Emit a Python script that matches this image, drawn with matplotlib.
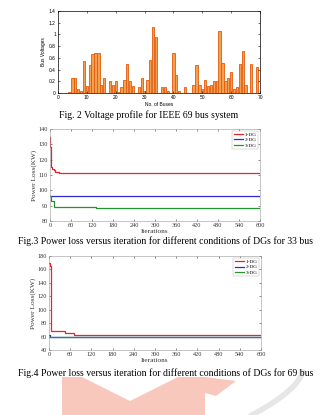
import matplotlib
matplotlib.use("Agg")
import matplotlib.pyplot as plt
from matplotlib.patches import Polygon
import numpy as np

# ---------------- data ----------------
buses = list(range(1, 70))
bus_voltages = [0.0, 0.0, 0.0, 0.02, 0.25, 0.26, 0.06, 0.03, 0.54, 0.12,
                0.47, 0.67, 0.68, 0.69, 0.13, 0.25, 0.0, 0.21, 0.13, 0.21,
                0.01, 0.10, 0.23, 0.49, 0.20, 0.12, 0.0, 0.10, 0.26, 0.04,
                0.23, 0.56, 1.12, 0.96, 0.0, 0.10, 0.10, 0.03, 0.0, 0.69,
                0.30, 0.03, 0.0, 0.11, 0.0, 0.0, 0.14, 0.48, 0.13, 0.06,
                0.22, 0.12, 0.14, 0.20, 0.20, 1.05, 0.52, 0.20, 0.25, 0.35,
                0.06, 0.10, 0.50, 0.72, 0.13, 0.0, 0.49, 0.0, 0.44]

# 33-bus convergence (breakpoints, step curves)
it33_1 = [0, 1, 2, 3, 4, 6, 10, 15, 25, 600]
loss33_1 = [135, 128, 120, 117, 115, 114, 113, 112, 111, 111]
it33_2 = [0, 600]
loss33_2 = [96.2, 95.8]
it33_3 = [0, 3, 10, 130, 600]
loss33_3 = [96, 93, 89, 88.4, 88.4]

# 69-bus convergence
it69_1 = [0, 3, 5, 35, 45, 70, 72, 600]
loss69_1 = [170, 165, 69, 68, 66, 65, 63, 63]
it69_2 = [0, 3, 600]
loss69_2 = [63, 60, 60]
it69_3 = [0, 600]
loss69_3 = [59, 59]

legend_labels = ["1-DG", "2-DG", "3-DG"]
captions = ["Fig. 2 Voltage profile for IEEE 69 bus system",
            "Fig.3 Power loss versus iteration for different conditions of DGs for 33 bus",
            "Fig.4 Power loss versus iteration for different conditions of DGs for 69 bus"]

W, H = 321, 415
fig = plt.figure(figsize=(W / 100, H / 100), dpi=100)
fig.patch.set_facecolor("white")

# faint watermark at the bottom of the page
def px(pts):
    return [(x / W, 1 - y / H) for x, y in pts]

fig.patches.append(Polygon(px([(62, 377), (82, 377), (130, 401), (178, 377), (205, 377),
                               (236, 381), (216, 396), (205, 393), (205, 415), (62, 415)]),
                           closed=True, facecolor="#F8C8BC", edgecolor="none",
                           transform=fig.transFigure, zorder=0))
t = np.linspace(0, 1, 30)
arc_x = 302 - 50 * t ** 1.6
arc_y = 372 + 43 * t
fig.lines.append(plt.Line2D(arc_x / W, 1 - arc_y / H, transform=fig.transFigure,
                            color="#E6E6E6", lw=4, zorder=0))

def ax_px(l, t, r, b):
    return fig.add_axes([l / W, 1 - b / H, (r - l) / W, (b - t) / H])

serif = ["Liberation Serif", "DejaVu Serif"]
sans = ["Liberation Sans", "DejaVu Sans"]

# ---------- bar chart ----------
ax1 = ax_px(58, 11, 260, 93)
ax1.bar(buses, bus_voltages, width=0.8, color="#F5A050", edgecolor="#E35A0A", linewidth=0.6)
ax1.set_xlim(0, 70)
ax1.set_ylim(0, 1.4)
ax1.set_xticks(range(0, 71, 10))
ax1.set_yticks(np.arange(0, 1.41, 0.2))
ax1.set_yticklabels(["0", "0.2", "0.4", "0.6", "0.8", "1", "1.2", "1.4"])
ax1.tick_params(direction="in", length=1.5, width=0.4, labelsize=3.5, pad=1.5,
                top=True, right=True)
for lab in ax1.get_xticklabels() + ax1.get_yticklabels():
    lab.set_family(sans)
for s in ax1.spines.values():
    s.set_linewidth(0.5)
ax1.set_xlabel("No. of Buses", fontsize=3.5, family=sans, labelpad=1.5)
ax1.set_ylabel("Bus Voltages", fontsize=3.5, family=sans, labelpad=2)
fig.text(149 / W, 1 - 115 / H, captions[0], ha="center", va="center",
         fontsize=7, family=serif)

def line_panel(ax, series, ylim, yticks):
    cols = ["#E8262A", "#2B2BD9", "#22962E"]
    for (x, y), c, lab in zip(series, cols, legend_labels):
        ax.plot(x, y, drawstyle="steps-post", color=c, lw=0.9, label=lab)
    ax.set_xlim(0, 600)
    ax.set_ylim(*ylim)
    ax.set_xticks(range(0, 601, 60))
    ax.set_yticks(yticks)
    ax.tick_params(direction="in", length=1.5, width=0.4, labelsize=4.5, pad=1.5,
                   top=True, right=True, colors="#333333")
    for lab in ax.get_xticklabels() + ax.get_yticklabels():
        lab.set_family(serif)
    for s in ax.spines.values():
        s.set_linewidth(0.4)
        s.set_color("#999999")
    ax.set_xlabel("Iterations", fontsize=5.2, family=serif, labelpad=1, color="#333333")
    ax.set_ylabel("Power Loss(KW)", fontsize=5.2, family=serif, labelpad=1, color="#333333")
    leg = ax.legend(loc="upper right", prop={"family": serif, "size": 3.8},
                    handlelength=1.8, handletextpad=0.3, borderpad=0.3,
                    labelspacing=0.15, frameon=True, fancybox=False, borderaxespad=0.3)
    leg.get_frame().set_linewidth(0.3)
    leg.get_frame().set_edgecolor("#999999")

ax2 = ax_px(50, 129, 260, 221)
line_panel(ax2, [(it33_1, loss33_1), (it33_2, loss33_2), (it33_3, loss33_3)],
           (80, 140), range(80, 141, 10))
fig.text(166 / W, 1 - 241 / H, captions[1], ha="center", va="center",
         fontsize=7, family=serif)

ax3 = ax_px(49, 256, 261, 350)
line_panel(ax3, [(it69_1, loss69_1), (it69_2, loss69_2), (it69_3, loss69_3)],
           (40, 180), range(40, 181, 20))
fig.text(166 / W, 1 - 373 / H, captions[2], ha="center", va="center",
         fontsize=7, family=serif)

fig.savefig("out.png", dpi=100)
